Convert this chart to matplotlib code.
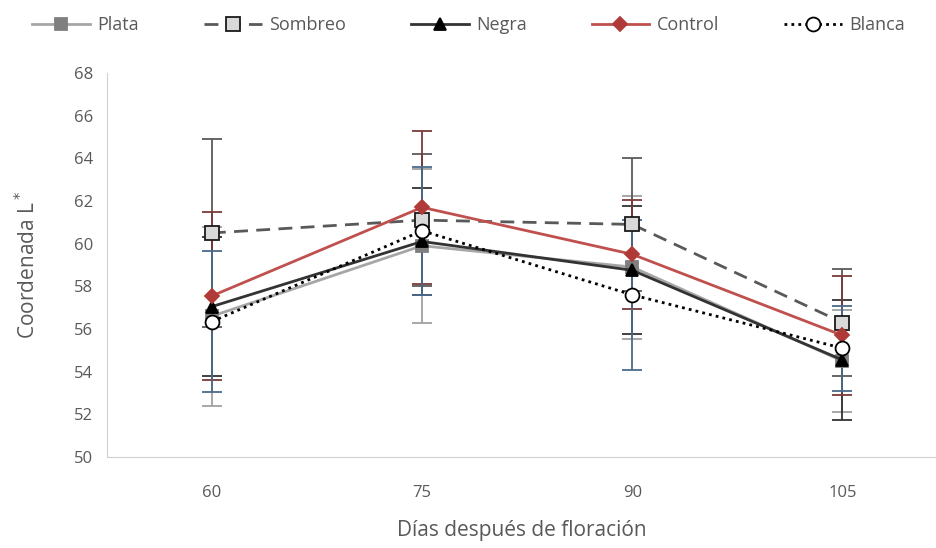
import numpy as np
import matplotlib
matplotlib.use("Agg")
import matplotlib.pyplot as plt

# Coordenada L* por tratamiento
dias = ['60', '75', '90', '105']
plata = [56.6, 59.9, 58.9, 54.5]
sombreo = [60.5, 61.1, 60.9, 56.3]
negra = [57.05, 60.1, 58.75, 54.55]
control = [57.55, 61.7, 59.5, 55.7]
blanca = [56.35, 60.6, 57.6, 55.1]

err_plata = [4.2, 3.6, 3.35, 2.4]
err_sombreo = [4.4, 3.1, 3.1, 2.5]
err_negra = [3.25, 2.5, 3.0, 2.8]
err_control = [3.95, 3.57, 2.55, 2.8]
err_blanca = [3.3, 3.0, 3.5, 2.0]

plt.rcParams['font.family'] = ['Open Sans', 'DejaVu Sans']

fig = plt.figure(figsize=(9.37, 5.48), dpi=100)
ax = fig.add_axes([0.114, 0.166, 0.886, 0.701])

x = np.arange(len(dias))

series = [
    ('Plata', plata, err_plata, dict(color='#a6a6a6', ls='-', marker='s', mfc='#7f7f7f', mec='#7f7f7f', ms=8), '#a0a0a0'),
    ('Sombreo', sombreo, err_sombreo, dict(color='#595959', ls=(0, (5, 3)), marker='s', mfc='#d9d9d9', mec='#1a1a1a', ms=10), '#5a5a5a'),
    ('Negra', negra, err_negra, dict(color='#333333', ls='-', marker='^', mfc='#000000', mec='#000000', ms=8), '#333333'),
    ('Control', control, err_control, dict(color='#c0504d', ls='-', marker='D', mfc='#b03a37', mec='#b03a37', ms=7), '#7a3a3a'),
    ('Blanca', blanca, err_blanca, dict(color='#000000', ls=(0, (1, 1.5)), marker='o', mfc='white', mec='#000000', ms=10), '#4a6a8a'),
]

for name, vals, err, style, ecol in series:
    ax.errorbar(x, vals, yerr=err, fmt='none', ecolor=ecol, elinewidth=1.3,
                capsize=7, capthick=1.3, zorder=1)

for name, vals, err, style, ecol in series:
    ax.plot(x, vals, label=name, lw=2, mew=1.3, zorder=3, **style)

ax.set_xlim(-0.5, 3.45)
ax.set_ylim(50, 68)
ax.set_yticks(np.arange(50, 69, 2))
ax.set_xticks(x)
ax.set_xticklabels(dias)

for s in ['top', 'right']:
    ax.spines[s].set_visible(False)
for s in ['left', 'bottom']:
    ax.spines[s].set_color('#d0d0d0')
ax.tick_params(axis='both', length=0, labelsize=12, colors='#595959', pad=10)
ax.tick_params(axis='x', pad=20)

ax.set_ylabel('Coordenada L$^*$', fontsize=15, color='#595959', labelpad=24)
ax.set_xlabel('Días después de floración', fontsize=15, color='#595959', labelpad=14)

ax.legend(loc='upper center', bbox_to_anchor=(0.5, 1.0), bbox_transform=fig.transFigure,
          ncol=5, frameon=False, fontsize=13, handlelength=3.2, columnspacing=3.6,
          handletextpad=0.4, labelcolor='#595959')

fig.savefig('out.png', dpi=100)
